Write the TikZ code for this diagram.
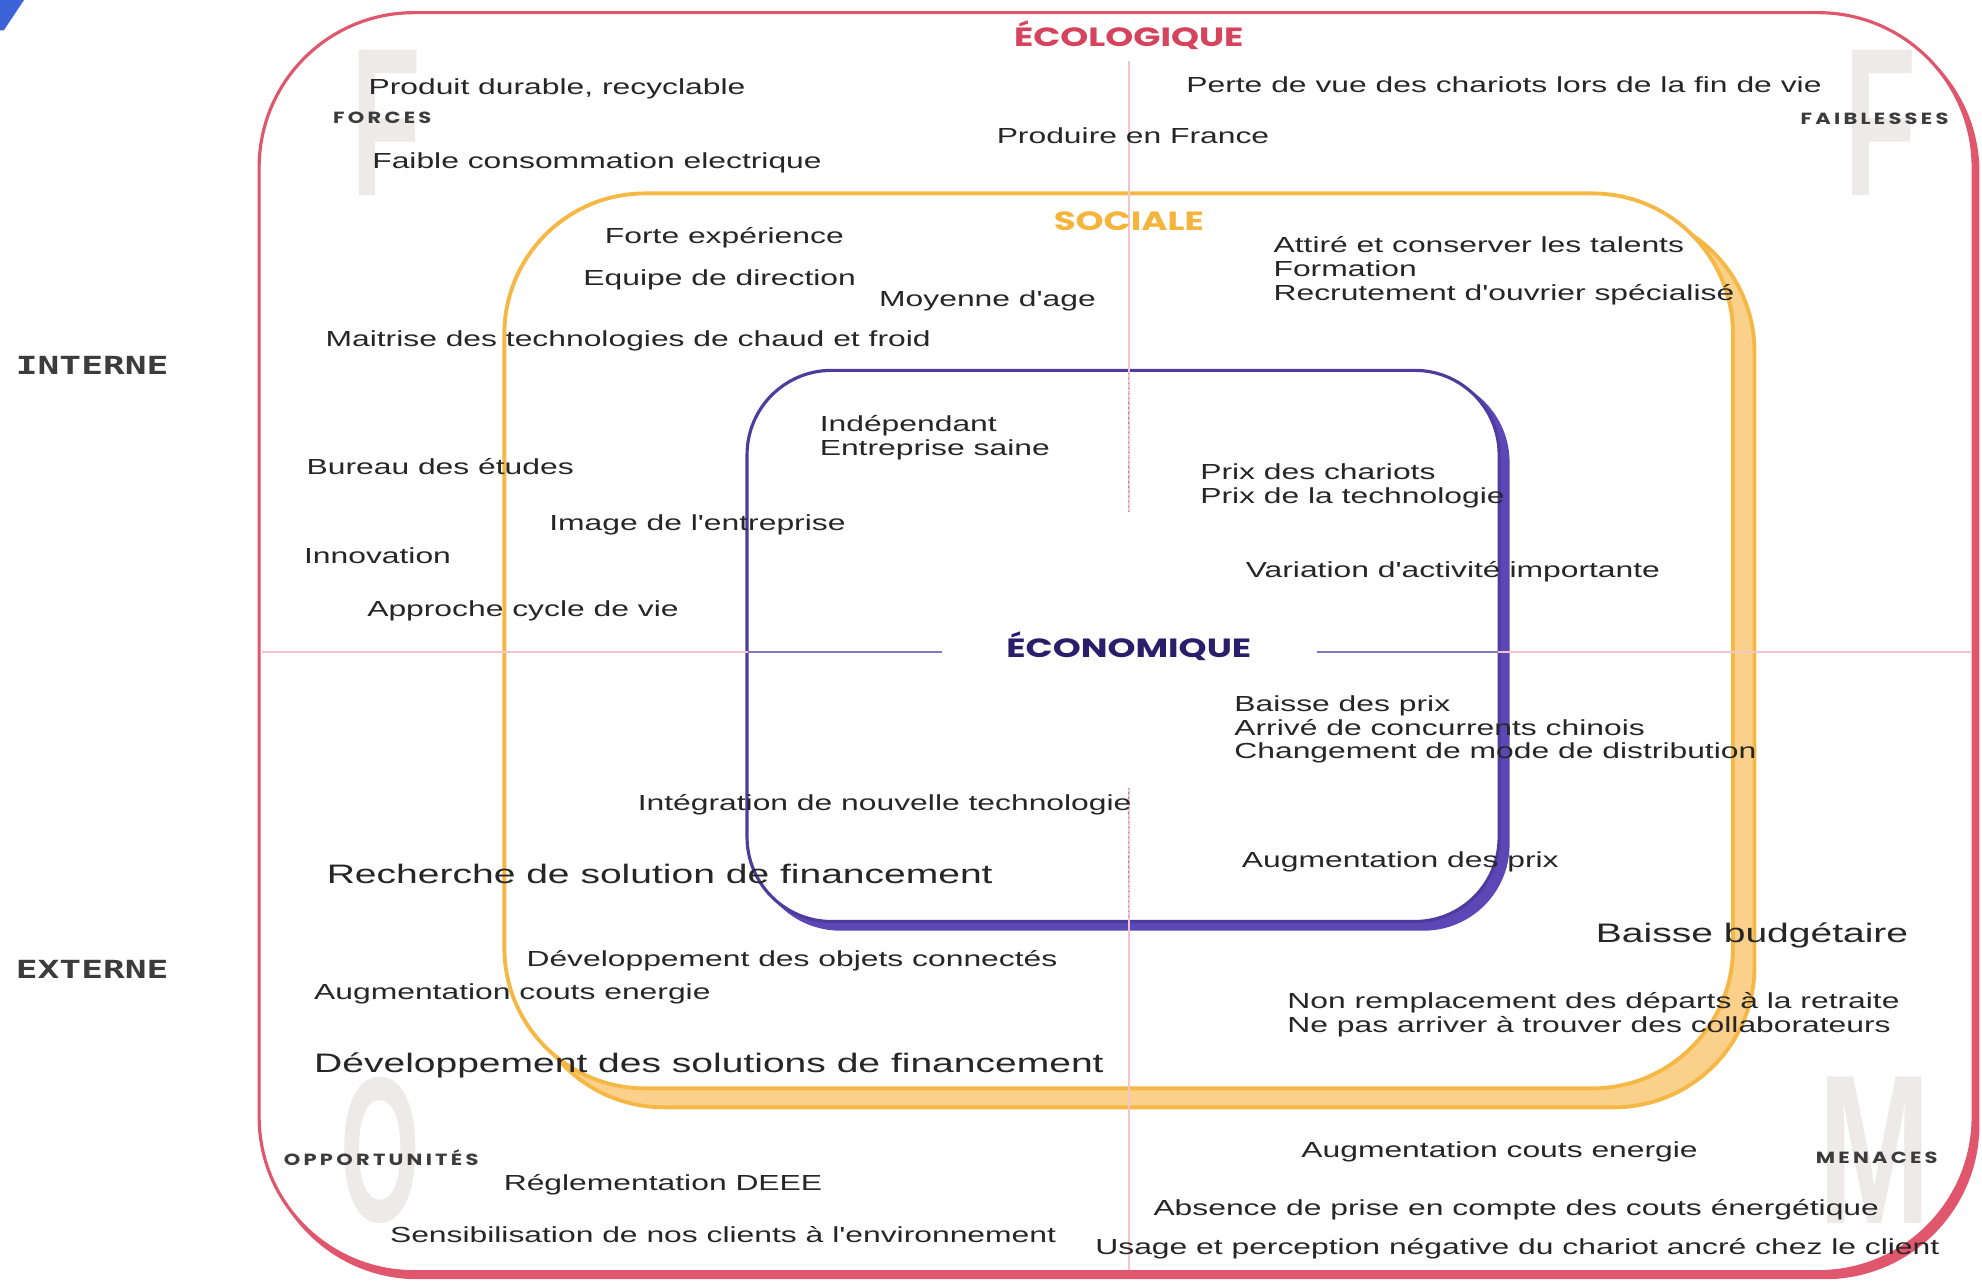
\documentclass[tikz,border=0pt]{standalone}
\usepackage{fontspec}
\setmainfont{Liberation Sans}
\newfontfamily\wide[FakeStretch=1.46]{Liberation Sans}
\newfontfamily\headfont[FakeStretch=1.35]{Poppins}
\newfontfamily\tagfont[FakeStretch=1.3,LetterSpace=20]{Poppins}
\newfontfamily\sidefont[FakeStretch=1.45]{DejaVu Sans Mono}
\newfontfamily\wmfont{Liberation Sans}
\usepackage{tikz}

\newlength\pxu
\setlength\pxu{0.01264cm}

\definecolor{ecored}{HTML}{E0566C}
\definecolor{ecotext}{HTML}{D6435C}
\definecolor{socorange}{HTML}{F6B845}
\definecolor{socshade}{HTML}{FAD08A}
\definecolor{soctext}{HTML}{F4B53A}
\definecolor{ecopurple}{HTML}{4D3C9E}
\definecolor{ecoshade}{HTML}{5B47B5}
\definecolor{econtext}{HTML}{2A1D6A}
\definecolor{bodytext}{HTML}{262626}
\definecolor{tagtext}{HTML}{3C3C3C}
\definecolor{wmgray}{HTML}{EEEAEA}
\definecolor{divpink}{HTML}{F3C4CB}
\definecolor{divgray}{HTML}{8C8C9C}
\definecolor{cornerblue}{HTML}{3D63D8}

\tikzset{
  txt/.style={anchor=west, inner sep=0pt, yshift=-2\pxu, text=bodytext, align=left, font=\wide\fontsize{6.2}{6.8}\selectfont},
  bigtxt/.style={txt, font=\wide\fontsize{7.6}{9}\selectfont},
  head/.style={anchor=base, inner sep=0pt, font=\headfont\bfseries\fontsize{7.5}{8}\selectfont},
  tag/.style={anchor=west, inner sep=0pt, text=tagtext, font=\tagfont\bfseries\fontsize{4.6}{5}\selectfont},
  side/.style={anchor=west, inner sep=0pt, text=tagtext, font=\sidefont\bfseries\fontsize{7.1}{8}\selectfont},
  wmark/.style={inner sep=0pt, text=wmgray, font=\wmfont\bfseries}
}

\begin{document}
\begin{tikzpicture}[x=0.01264cm, y=-0.01264cm]
\useasboundingbox (0,0) rectangle (1568,1015);
\fill [cornerblue] (0,0) -- (19,0) -- (3,24) -- (0,24) -- cycle;

\fill [ecored, rounded corners=44] (208,14) rectangle (1566,1012);
\draw [ecored, fill=white, line width=0.9pt, rounded corners=44] (205,10) rectangle (1561,1006);

\node [wmark] (fleft) at (305.5,97) {\resizebox{55\pxu}{115\pxu}{F}};
\node [wmark] (fright) at (1487.5,97) {\resizebox{57\pxu}{115\pxu}{F}};
\node [wmark] (oleft) at (301,910) {\resizebox{63\pxu}{114\pxu}{O}};
\node [wmark] (mright) at (1483.5,910) {\resizebox{89\pxu}{116\pxu}{M}};

\draw [socorange, fill=socshade, line width=1.1pt, rounded corners=40] (414,167) rectangle (1388,876);
\draw [socorange, fill=white, line width=1.1pt, rounded corners=40] (399,153) rectangle (1371,861);

\draw [ecoshade, fill=ecoshade, line width=0.9pt, rounded corners=24] (598,299) rectangle (1193,735);
\draw [ecopurple, fill=white, line width=0.9pt, rounded corners=24] (591,293) rectangle (1186,729);

\draw [divpink, line width=0.5pt] (893,48) -- (893,405);
\draw [divpink, line width=0.5pt] (893,623) -- (893,1005);
\draw [divgray, line width=0.4pt, densely dotted] (893,295) -- (893,405);
\draw [divgray, line width=0.4pt, densely dotted] (893,623) -- (893,727);
\draw [divpink, line width=0.5pt] (207,516) -- (745,516);
\draw [divpink, line width=0.5pt] (1042,516) -- (1560,516);
\draw [ecopurple!70, line width=0.5pt] (592,516) -- (745,516);
\draw [ecopurple!70, line width=0.5pt] (1042,516) -- (1185,516);

\node [head, text=ecotext] (eco) at (893,37) {ÉCOLOGIQUE};
\node [head, text=soctext] (soc) at (893,182) {SOCIALE};
\node [head, text=econtext] (econ) at (893,520) {ÉCONOMIQUE};

\node [side] (interne) at (12,289) {INTERNE};
\node [side] (externe) at (12,767) {EXTERNE};

\node [tag] (forces) at (263,93) {FORCES};
\node [tag] (faiblesses) at (1424,94) {FAIBLESSES};
\node [tag] (opport) at (224,916) {OPPORTUNITÉS};
\node [tag] (menaces) at (1436,916) {MENACES};

\node [txt] (produit) at (291,68) {Produit durable, recyclable};
\node [txt] (faible) at (294,127) {Faible consommation electrique};
\node [txt] (perte) at (938,65) {Perte de vue des chariots lors de la fin de vie};
\node [txt] (france) at (788,105) {Produire en France};

\node [txt] (forte) at (478,186) {Forte expérience};
\node [txt] (equipe) at (461,219) {Equipe de direction};
\node [txt] (moyenne) at (695,236) {Moyenne d'age};
\node [txt] (maitrise) at (257,268) {Maitrise des technologies de chaud et froid};
\node [txt] (talents) at (1007,212) {Attiré et conserver les talents\\Formation\\Recrutement d'ouvrier spécialisé};
\node [txt] (bureau) at (242,367) {Bureau des études};
\node [txt] (image) at (434,413) {Image de l'entreprise};
\node [txt] (innov) at (240,438) {Innovation};
\node [txt] (cycle) at (290,481) {Approche cycle de vie};

\node [txt] (indep) at (648,344) {Indépendant\\Entreprise saine};
\node [txt] (prix) at (949,382) {Prix des chariots\\Prix de la technologie};
\node [txt] (variation) at (985,450) {Variation d'activité importante};
\node [txt] (baisse) at (976,575) {Baisse des prix\\Arrivé de concurrents chinois\\Changement de mode de distribution};
\node [txt] (integ) at (504,635) {Intégration de nouvelle technologie};
\node [txt] (augprix) at (982,680) {Augmentation des prix};

\node [bigtxt] (recherche) at (258,689) {Recherche de solution de financement};
\node [bigtxt] (budget) at (1262,738) {Baisse budgétaire};
\node [txt] (objets) at (416,758) {Développement des objets connectés};
\node [txt] (augcouts) at (248,784) {Augmentation couts energie};
\node [txt] (departs) at (1018,801) {Non remplacement des départs à la retraite\\Ne pas arriver à trouver des collaborateurs};
\node [bigtxt] (devsol) at (248,841) {Développement des solutions de financement};

\node [txt] (augener) at (1029,909) {Augmentation couts energie};
\node [txt] (deee) at (398,935) {Réglementation DEEE};
\node [txt] (absence) at (912,955) {Absence de prise en compte des couts énergétique};
\node [txt] (sensib) at (308,975) {Sensibilisation de nos clients à l'environnement};
\node [txt] (usage) at (866,986) {Usage et perception négative du chariot ancré chez le client};
\end{tikzpicture}
\end{document}
